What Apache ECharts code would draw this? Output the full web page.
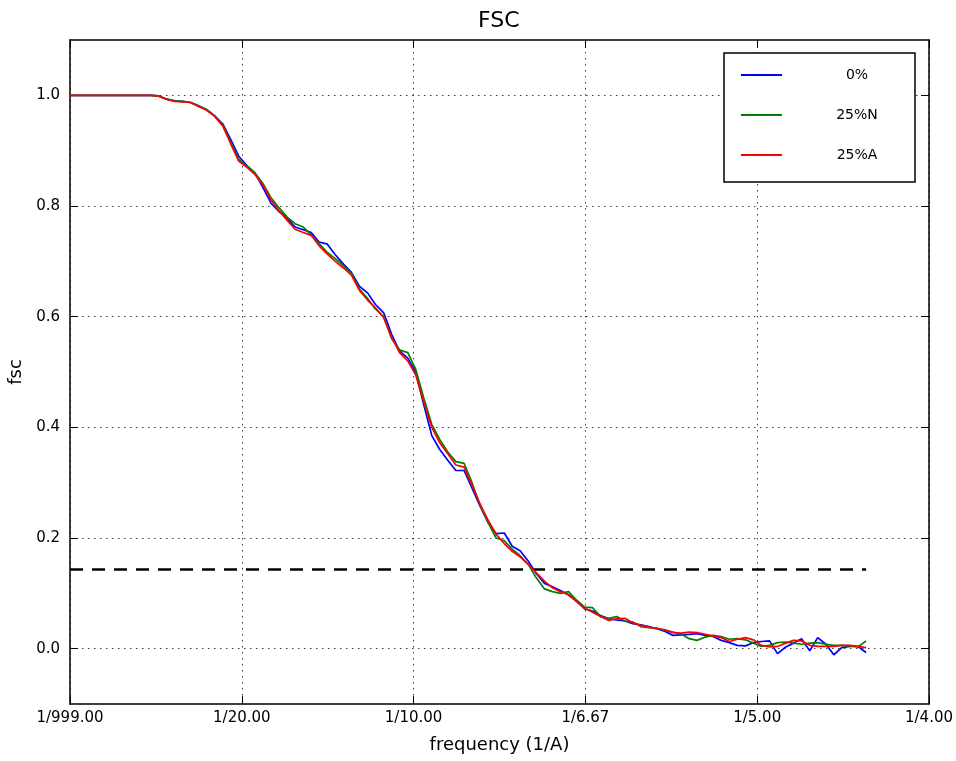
<!DOCTYPE html>
<html>
<head>
<meta charset="utf-8">
<script src="https://cdn.jsdelivr.net/npm/echarts@6/dist/echarts.min.js"></script>
<style>html,body{margin:0;padding:0;background:#fff;}#c{width:956px;height:761px;}</style>
</head>
<body>
<div id="c"></div>
<script>
const freq = [0.0000,0.0023,0.0047,0.0070,0.0094,0.0117,0.0140,0.0164,0.0187,0.0211,
0.0234,0.0257,0.0281,0.0304,0.0328,0.0351,0.0374,0.0398,0.0421,0.0445,
0.0468,0.0491,0.0515,0.0538,0.0562,0.0585,0.0608,0.0632,0.0655,0.0679,
0.0702,0.0725,0.0749,0.0772,0.0796,0.0819,0.0842,0.0866,0.0889,0.0913,
0.0936,0.0959,0.0983,0.1006,0.1030,0.1053,0.1076,0.1100,0.1123,0.1147,
0.1170,0.1193,0.1217,0.1240,0.1264,0.1287,0.1310,0.1334,0.1357,0.1381,
0.1404,0.1427,0.1451,0.1474,0.1498,0.1521,0.1544,0.1568,0.1591,0.1615,
0.1638,0.1661,0.1685,0.1708,0.1732,0.1755,0.1778,0.1802,0.1825,0.1849,
0.1872,0.1895,0.1919,0.1942,0.1966,0.1989,0.2012,0.2036,0.2059,0.2083,
0.2106,0.2129,0.2153,0.2176,0.2200,0.2223,0.2246,0.2270,0.2293,0.2317];

const fsc0 = [1.000,1.000,1.000,1.000,1.000,1.000,1.000,1.000,1.000,1.000,
1.000,0.999,0.993,0.990,0.989,0.987,0.981,0.974,0.963,0.948,
0.920,0.890,0.873,0.860,0.833,0.805,0.790,0.778,0.762,0.757,
0.752,0.735,0.731,0.712,0.695,0.680,0.655,0.643,0.622,0.607,
0.568,0.538,0.525,0.500,0.440,0.385,0.360,0.340,0.322,0.322,
0.290,0.258,0.228,0.208,0.209,0.185,0.177,0.158,0.136,0.118,
0.112,0.105,0.097,0.086,0.072,0.068,0.060,0.054,0.052,0.050,
0.045,0.043,0.040,0.036,0.031,0.024,0.025,0.026,0.027,0.024,
0.022,0.015,0.011,0.006,0.005,0.011,0.013,0.014,-0.009,0.003,
0.010,0.018,-0.004,0.020,0.008,-0.011,0.002,0.004,0.004,-0.007];

const fsc25N = [1.000,1.000,1.000,1.000,1.000,1.000,1.000,1.000,1.000,1.000,
1.000,0.999,0.993,0.990,0.989,0.987,0.981,0.974,0.963,0.946,
0.915,0.884,0.872,0.860,0.840,0.815,0.797,0.780,0.768,0.762,
0.748,0.732,0.716,0.705,0.692,0.678,0.650,0.633,0.614,0.600,
0.560,0.540,0.535,0.505,0.452,0.405,0.378,0.355,0.338,0.335,
0.300,0.260,0.228,0.200,0.195,0.180,0.168,0.152,0.128,0.108,
0.103,0.100,0.103,0.088,0.075,0.074,0.058,0.055,0.058,0.050,
0.048,0.040,0.038,0.037,0.033,0.030,0.027,0.018,0.015,0.021,
0.024,0.022,0.017,0.018,0.016,0.010,0.004,0.006,0.011,0.012,
0.010,0.008,0.010,0.011,0.008,0.006,0.006,0.005,0.003,0.014];

const fsc25A = [1.000,1.000,1.000,1.000,1.000,1.000,1.000,1.000,1.000,1.000,
1.000,0.999,0.993,0.989,0.988,0.987,0.980,0.973,0.962,0.944,
0.912,0.881,0.870,0.857,0.838,0.811,0.792,0.774,0.758,0.752,
0.747,0.728,0.713,0.700,0.688,0.675,0.648,0.630,0.616,0.598,
0.563,0.535,0.520,0.495,0.445,0.400,0.372,0.352,0.332,0.328,
0.295,0.262,0.232,0.207,0.190,0.176,0.166,0.152,0.137,0.122,
0.110,0.103,0.098,0.085,0.073,0.066,0.058,0.051,0.054,0.055,
0.047,0.042,0.039,0.036,0.034,0.029,0.028,0.030,0.029,0.026,
0.023,0.020,0.013,0.017,0.020,0.016,0.006,0.003,0.004,0.010,
0.015,0.014,0.006,0.004,0.004,0.004,0.006,0.006,0.004,0.002];

const threshold = 0.143;
const seriesNames = ['0%', '25%N', '25%A'];
const seriesColors = ['#0000ff', '#008000', '#ff0000'];
const yTicks = [0.0, 0.2, 0.4, 0.6, 0.8, 1.0];

const FONT = 'DejaVu Sans';
const pair = (xs, ys) => xs.map((x, i) => [x, ys[i]]);
const gridLine = { show: true, lineStyle: { color: '#000', width: 1, type: [1.5, 4.5], opacity: 0.75 } };
const tick = { show: true, inside: true, length: 8, lineStyle: { color: '#000', width: 1 } };
const axisLine = { show: true, onZero: false, lineStyle: { color: '#000', width: 1.5 } };

const chart = echarts.init(document.getElementById('c'), null, { renderer: 'canvas' });
chart.setOption({
  animation: false,
  backgroundColor: '#fff',
  textStyle: { fontFamily: FONT },
  title: {
    text: 'FSC', left: 478, top: 10, padding: 0,
    textStyle: { fontFamily: FONT, fontSize: 22, fontWeight: 'normal', color: '#000' }
  },
  legend: {
    data: seriesNames.map(n => ({ name: n, icon: 'rect' })),
    orient: 'vertical',
    left: 724, top: 53,
    padding: [15, 8, 20, 17],
    itemWidth: 41, itemHeight: 2, itemGap: 26,
    backgroundColor: '#fff', borderColor: '#000', borderWidth: 1.5, borderRadius: 0,
    formatter: n => '{t|' + n + '}',
    textStyle: {
      fontFamily: FONT, fontSize: 14, color: '#000',
      rich: { t: { width: 100, align: 'center', padding: [0, 0, 0, 20], fontSize: 14, lineHeight: 14, fontFamily: FONT } }
    }
  },
  grid: { left: 70, right: 27, top: 40, bottom: 57, outerBoundsMode: 'none', containLabel: false },
  xAxis: [{
    type: 'value', min: 0, max: 0.25, interval: 0.05,
    name: 'frequency (1/A)', nameLocation: 'middle', nameGap: 32,
    nameTextStyle: { fontFamily: FONT, fontSize: 18, color: '#000' },
    axisLine: axisLine, axisTick: tick, splitLine: gridLine,
    axisLabel: {
      margin: 7, color: '#000', fontFamily: FONT, fontSize: 15,
      formatter: v => v === 0 ? '1/999.00' : '1/' + (1 / v).toFixed(2)
    }
  }, {
    type: 'value', position: 'top', min: 0, max: 0.25, interval: 0.05,
    axisLine: axisLine, axisTick: tick, splitLine: { show: false }, axisLabel: { show: false }
  }],
  yAxis: [{
    type: 'value', min: -0.1, max: 1.1,
    name: 'fsc', nameLocation: 'middle', nameGap: 44,
    nameTextStyle: { fontFamily: FONT, fontSize: 18, color: '#000' },
    axisLine: axisLine,
    axisTick: Object.assign({ customValues: yTicks }, tick),
    splitLine: gridLine,
    axisLabel: { customValues: yTicks, margin: 10, color: '#000', fontFamily: FONT, fontSize: 15, formatter: v => v.toFixed(1) }
  }, {
    type: 'value', position: 'right', min: -0.1, max: 1.1,
    axisLine: axisLine,
    axisTick: Object.assign({ customValues: yTicks }, tick),
    splitLine: { show: false },
    axisLabel: { show: false, customValues: yTicks }
  }],
  series: [
    {
      name: 'threshold', type: 'line', xAxisIndex: 0, yAxisIndex: 0,
      data: [[freq[0], threshold], [freq[freq.length - 1], threshold]],
      symbol: 'none', silent: true,
      lineStyle: { color: '#000', width: 2.5, type: [13, 9] }, z: 3
    },
    ...[fsc0, fsc25N, fsc25A].map((ys, k) => ({
      name: seriesNames[k], type: 'line', xAxisIndex: 0, yAxisIndex: 0,
      data: pair(freq, ys), symbol: 'none', showSymbol: false,
      color: seriesColors[k],
      lineStyle: { color: seriesColors[k], width: 1.7 },
      itemStyle: { color: seriesColors[k] },
      z: 4 + k
    }))
  ]
});
</script>
</body>
</html>
